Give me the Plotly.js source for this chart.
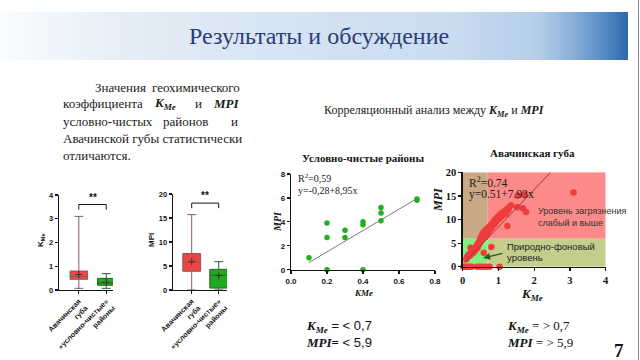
<!DOCTYPE html>
<html><head><meta charset="utf-8">
<script src="https://cdn.plot.ly/plotly-3.0.1.min.js"></script>
<style>html,body{margin:0;padding:0;background:#fff}#c{width:640px;height:360px}</style>
</head><body><div id="c"></div>
<script>
// ---------- data ----------
const boxCategories = ['Авачинская<br>губа', '«условно-чистые»<br>районы'];
const kmeQ1 = [0.45, 0.20], kmeMedian = [0.57, 0.30], kmeQ3 = [0.80, 0.49];
const kmeLow = [0.07, 0.07], kmeHigh = [3.10, 0.69], kmeMean = [0.65, 0.33];
const mpiQ1 = [3.9, 0.4], mpiMedian = [5.8, 3.1], mpiQ3 = [7.6, 4.3];
const mpiLow = [0.0, 0.0], mpiHigh = [15.7, 5.9], mpiMean = [5.9, 3.0];
const kmeSigLevel = 3.6, mpiSigLevel = 18.1;

const cleanKme = [0.1,0.2,0.2,0.2,0.3,0.3,0.4,0.4,0.4,0.5,0.5,0.5,0.7,0.7];
const cleanMpi = [1.0,3.9,2.7,0.0,3.3,2.7,4.0,3.75,0.0,5.2,4.75,4.1,5.9,5.8];
const cleanFitX = [0.1, 0.7], cleanFitY = [0.6, 5.95];

const avachaKme = [0.15,0.18,0.2,0.22,0.25,0.27,0.3,0.3,0.32,0.33,0.35,0.36,0.38,0.4,0.4,0.42,0.43,0.45,0.45,0.47,0.48,0.5,0.5,0.52,0.53,0.55,0.55,0.57,0.58,0.6,0.6,0.62,0.63,0.65,0.65,0.67,0.68,0.7,0.7,0.72,0.73,0.75,0.75,0.77,0.78,0.8,0.8,0.82,0.83,0.85,0.85,0.87,0.88,0.9,0.9,0.92,0.93,0.95,0.95,0.97,0.98,1.0,1.0,1.02,1.03,1.05,1.05,1.07,1.08,1.1,1.12,1.15,1.17,1.2,1.22,1.25,1.28,1.3,1.35,
  1.25,1.77,1.52,1.68,1.54,1.72,3.1,0.22,0.8,0.59,0.12,0.1,
  0.02,0.08,0.12,0.18,0.25,0.4,0.48,0.55,0.65,0.75,1.03];
const avachaMpi = [2.4,2.6,2.3,2.9,2.7,3.2,3.0,3.6,3.4,3.9,3.5,4.2,3.8,4.5,3.9,4.8,4.3,5.2,4.6,5.0,5.6,5.3,6.1,5.7,6.4,6.0,6.9,6.5,7.2,6.8,7.4,7.0,6.3,7.3,7.8,7.5,6.9,7.7,8.2,7.4,8.0,8.4,7.9,8.6,8.1,8.8,8.3,9.1,8.6,9.3,8.9,9.6,9.0,9.8,9.3,10.0,9.5,10.2,9.8,10.4,10.0,10.6,10.1,10.8,10.3,11.0,10.5,11.2,10.7,11.4,10.9,11.6,11.1,11.9,11.4,12.2,12.0,12.6,13.0,
  8.6,11.6,12.6,12.4,15.1,15.3,15.7,4.0,4.2,2.95,2.0,1.6,
  0,0,0,0,0,0,0,0,0,0,0];
const avachaFitX = [0.05, 2.46], avachaFitY = [0.9, 20.0];
const kmeThreshold = 0.7, mpiThreshold = 5.9;

// ---------- helpers ----------
const W = 640, H = 360;
const px = v => v / W, py = v => 1 - v / H;
const SERIF = 'Liberation Serif', SANS = 'Liberation Sans';
const annotations = [];
function ann(text, x, y, o = {}) {
  annotations.push(Object.assign({
    text, x: px(x), y: py(y), xref: 'paper', yref: 'paper', showarrow: false,
    xanchor: 'left', yanchor: 'middle',
    font: {family: SERIF, size: 13, color: '#1a1a1a'}
  }, o));
}
const GREEN = '#22ad22';

const axBase = {showline: true, linecolor: '#151515', linewidth: 1.3, ticks: 'outside', ticklen: 3,
  tickwidth: 1.2, tickcolor: '#151515', showgrid: false, zeroline: false, fixedrange: true};
const sansTick = s => ({family: SANS, size: s, color: '#151515', weight: 'bold'});
const serifTick = s => ({family: SERIF, size: s, color: '#151515', weight: 'bold'});

// ---------- traces ----------
const traces = [];
function boxPair(xa, ya, q1, med, q3, lo, hi, mean, w) {
  [0, 1].forEach(i => {
    traces.push({type: 'box', xaxis: xa, yaxis: ya, x: [i], q1: [q1[i]], median: [med[i]], q3: [q3[i]],
      lowerfence: [lo[i]], upperfence: [hi[i]], boxpoints: false, width: w, whiskerwidth: 0.5,
      fillcolor: i === 0 ? '#f04444' : '#1faa1f',
      line: {color: i === 0 ? '#8c5a5a' : '#2f5f2f', width: 1}, hoverinfo: 'skip'});
  });
  traces.push({type: 'scatter', xaxis: xa, yaxis: ya, x: [0, 1], y: mean, mode: 'markers',
    marker: {symbol: 'cross-thin', size: 5, line: {width: 1, color: '#333'}}, hoverinfo: 'skip'});
}
boxPair('x', 'y', kmeQ1, kmeMedian, kmeQ3, kmeLow, kmeHigh, kmeMean, 0.64);
boxPair('x2', 'y2', mpiQ1, mpiMedian, mpiQ3, mpiLow, mpiHigh, mpiMean, 0.66);

traces.push({type: 'scatter', xaxis: 'x3', yaxis: 'y3', x: cleanFitX, y: cleanFitY, mode: 'lines',
  line: {color: '#7a7a7a', width: 1}, hoverinfo: 'skip'});
traces.push({type: 'scatter', xaxis: 'x3', yaxis: 'y3', x: cleanKme, y: cleanMpi, mode: 'markers',
  cliponaxis: false, marker: {color: GREEN, size: 5.5}, hoverinfo: 'skip'});

traces.push({type: 'scatter', xaxis: 'x4', yaxis: 'y4', x: avachaKme, y: avachaMpi, mode: 'markers',
  cliponaxis: false, marker: {color: '#f03c3c', size: 6.5}, hoverinfo: 'skip'});
traces.push({type: 'scatter', xaxis: 'x4', yaxis: 'y4', x: avachaFitX, y: avachaFitY, mode: 'lines',
  line: {color: '#9a3a3a', width: 1}, hoverinfo: 'skip'});

// ---------- shapes ----------
const shapes = [];
const stops = [[0, [250,252,254]], [100, [232,240,248]], [250, [216,229,243]], [450, [202,220,240]],
  [540, [180,205,232]], [580, [128,168,214]], [610, [74,132,192]], [628, [44,104,172]]];
function colAt(x) {
  for (let i = 0; i < stops.length - 1; i++) {
    const [a, ca] = stops[i], [b, cb] = stops[i + 1];
    if (x <= b) { const t = (x - a) / (b - a); return 'rgb(' + ca.map((c, k) => Math.round(c + (cb[k] - c) * t)).join(',') + ')'; }
  }
  return 'rgb(44,104,172)';
}
for (let x = 0; x < 628; x += 3) {
  shapes.push({type: 'rect', xref: 'paper', yref: 'paper', x0: px(x), x1: px(Math.min(x + 3.6, 628)),
    y0: py(60), y1: py(12), fillcolor: colAt(x + 1.5), line: {width: 0}, layer: 'below'});
}
shapes.push({type: 'line', xref: 'paper', yref: 'paper', x0: px(638.5), x1: px(638.5), y0: 0, y1: 1,
  line: {color: '#8a8a8a', width: 1}});
shapes.push({type: 'path', xref: 'x', yref: 'y', path: `M0,${kmeSigLevel - 0.22} L0,${kmeSigLevel} L1,${kmeSigLevel} L1,${kmeSigLevel - 0.22}`,
  line: {color: '#151515', width: 1}});
shapes.push({type: 'path', xref: 'x2', yref: 'y2', path: `M0,${mpiSigLevel - 1.05} L0,${mpiSigLevel} L1,${mpiSigLevel} L1,${mpiSigLevel - 1.05}`,
  line: {color: '#151515', width: 1}});
const zone = (x0, x1, y0, y1, c) => shapes.push({type: 'rect', xref: 'x4', yref: 'y4', x0, x1, y0, y1,
  fillcolor: c, line: {width: 0}, layer: 'below'});
zone(0, kmeThreshold, mpiThreshold, 20, '#c9a884');
zone(kmeThreshold, 4, mpiThreshold, 20, '#fb8a88');
zone(0, kmeThreshold, 0, mpiThreshold, '#82f07f');
zone(kmeThreshold, 4, 0, mpiThreshold, '#c4cd8c');

// ---------- annotations ----------
ann('Результаты и обсуждение', 319, 36, {xanchor: 'center', font: {family: SERIF, size: 24, color: '#2b3d78'}});

const P = {family: SERIF, size: 13, color: '#1a1a1a'};
ann('Значения', 93, 87, {font: P});
ann('геохимического', 242, 87, {xanchor: 'right', font: P});
ann('коэффициента', 61, 104, {font: P});
ann('<b><i>K<sub>Me</sub></i></b>', 152, 104, {font: P});
ann('и', 198, 104, {xanchor: 'center', font: P});
ann('<b><i>MPI</i></b>', 242, 104, {xanchor: 'right', font: P});
ann('условно-чистых', 61, 121, {font: P});
ann('районов', 161, 121, {font: P});
ann('и', 240, 121, {xanchor: 'right', font: P});
ann('Авачинской губы статистически', 61, 138, {font: P});
ann('отличаются.', 61, 155, {font: P});

ann('Корреляционный анализ между <b><i>K<sub>Me</sub></i></b> и <b><i>MPI</i></b>', 322, 111, {font: {family: SERIF, size: 12, color: '#1a1a1a'}});

ann('<b>K<sub>Me</sub></b>', 41, 240, {xanchor: 'center', textangle: -90, font: {family: SANS, size: 8, color: '#151515'}});
ann('<b>MPI</b>', 151, 240, {xanchor: 'center', textangle: -90, font: {family: SANS, size: 8, color: '#151515'}});
annotations.push({text: '<b>**</b>', x: 0.5, y: kmeSigLevel, xref: 'x', yref: 'y', yanchor: 'bottom', showarrow: false,
  font: {family: SANS, size: 10, color: '#151515'}});
annotations.push({text: '<b>**</b>', x: 0.5, y: mpiSigLevel, xref: 'x2', yref: 'y2', yanchor: 'bottom', showarrow: false,
  font: {family: SANS, size: 10, color: '#151515'}});

ann('<b>Условно-чистые районы</b>', 363, 158, {xanchor: 'center', font: {family: SERIF, size: 11, color: '#151515'}});
ann('R<sup>2</sup>=0,59', 296, 178, {font: {family: SERIF, size: 10, color: '#222'}});
ann('y=-0,28+8,95x', 296, 190, {font: {family: SERIF, size: 10, color: '#222'}});
ann('<b><i>KMe</i></b>', 363, 293, {xanchor: 'center', font: {family: SERIF, size: 9, color: '#151515'}});
ann('<b><i>MPI</i></b>', 277, 222, {xanchor: 'center', textangle: -90, font: {family: SERIF, size: 10, color: '#151515'}});

ann('<b>Авачинская губа</b>', 532, 153, {xanchor: 'center', font: {family: SERIF, size: 11, color: '#151515'}});
ann('R<sup>2</sup>=0.74', 467, 182, {font: {family: SERIF, size: 11.5, color: '#222'}});
ann('y=0.51+7.93x', 467, 194, {font: {family: SERIF, size: 11.5, color: '#222'}});
ann('Уровень загрязнения', 536, 211, {font: {family: SANS, size: 9, color: '#333'}});
ann('слабый и выше', 536, 222.5, {font: {family: SANS, size: 9, color: '#333'}});
ann('Природно-фоновый', 505, 246, {font: {family: SANS, size: 9.5, color: '#222'}});
ann('уровень', 505, 257.5, {font: {family: SANS, size: 9.5, color: '#222'}});
annotations.push({text: '', x: 0.57, y: 1.84, xref: 'x4', yref: 'y4', showarrow: true, ax: 21, ay: -5,
  arrowhead: 2, arrowsize: 1, arrowwidth: 1.4, arrowcolor: '#2d5a1e'});
ann('<b><i>K<sub>Me</sub></i></b>', 532, 294, {xanchor: 'center', font: {family: SERIF, size: 13, color: '#151515'}});
ann('<b><i>MPI</i></b>', 438, 200, {xanchor: 'center', textangle: -90, font: {family: SERIF, size: 12, color: '#151515'}});

ann('<b><i>K<sub>Me</sub></i></b><span style="font-family:Liberation Sans"> = &lt; 0,7</span>', 304, 326, {font: {family: SERIF, size: 13, color: '#111'}});
ann('<b><i>MPI</i></b><b>=</b><span style="font-family:Liberation Sans"> &lt; 5,9</span>', 304, 342, {font: {family: SERIF, size: 13, color: '#111'}});
ann('<b><i>K<sub>Me</sub></i></b> = &gt; 0,7', 505, 326, {font: {family: SERIF, size: 13, color: '#111'}});
ann('<b><i>MPI</i></b> = &gt; 5,9', 505, 342, {font: {family: SERIF, size: 13, color: '#111'}});
ann('<b>7</b>', 612, 350, {font: {family: SERIF, size: 19, color: '#111'}});

// ---------- layout ----------
const layout = {
  width: W, height: H, margin: {l: 0, r: 0, t: 0, b: 0}, showlegend: false,
  paper_bgcolor: '#ffffff', plot_bgcolor: 'rgba(0,0,0,0)',
  xaxis: Object.assign({}, axBase, {domain: [px(59), px(113)], range: [-0.723, 1.248], anchor: 'y',
    tickvals: [0, 1], ticktext: boxCategories, tickangle: -45, tickfont: sansTick(7.3)}),
  yaxis: Object.assign({}, axBase, {domain: [1 - 290 / H, 1 - 195 / H], range: [0, 4], dtick: 1, anchor: 'x',
    tickfont: sansTick(7.5)}),
  xaxis2: Object.assign({}, axBase, {domain: [px(173), px(227)], range: [-0.693, 1.307], anchor: 'y2',
    tickvals: [0, 1], ticktext: boxCategories, tickangle: -45, tickfont: sansTick(7.3)}),
  yaxis2: Object.assign({}, axBase, {domain: [1 - 290 / H, 1 - 194 / H], range: [0, 20], dtick: 5, anchor: 'x2',
    tickfont: sansTick(7.5)}),
  xaxis3: Object.assign({}, axBase, {domain: [px(291), px(435)], range: [0, 0.8], dtick: 0.2, tickformat: '.1f',
    anchor: 'y3', tickfont: sansTick(8)}),
  yaxis3: Object.assign({}, axBase, {domain: [1 - 269.7 / H, 1 - 174 / H], range: [0, 8], dtick: 2, anchor: 'x3',
    tickfont: sansTick(8)}),
  xaxis4: Object.assign({}, axBase, {domain: [px(462.7), px(605.7)], range: [0, 4], dtick: 1, anchor: 'y4',
    tickfont: serifTick(10.5)}),
  yaxis4: Object.assign({}, axBase, {domain: [1 - 266.7 / H, 1 - 172.3 / H], range: [0, 20], dtick: 5, anchor: 'x4',
    tickfont: serifTick(10.5)}),
  shapes, annotations
};
Plotly.newPlot('c', traces, layout, {staticPlot: true, displayModeBar: false});
</script></body></html>
